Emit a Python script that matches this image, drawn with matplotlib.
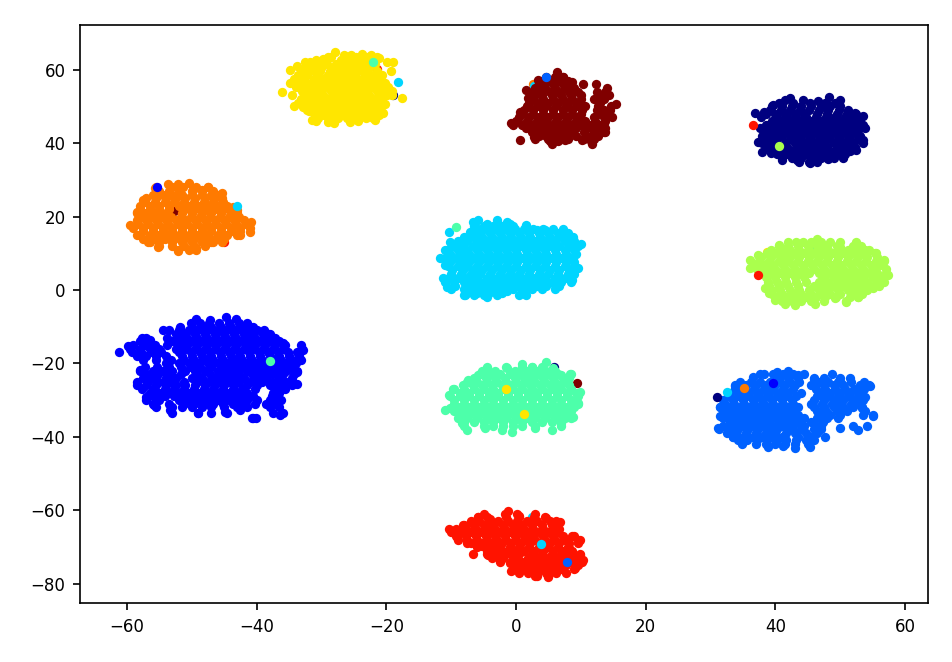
import matplotlib
matplotlib.use("Agg")
import matplotlib.pyplot as plt

xlim = (-67.25, 63.55)
ylim = (-85.3, 72.2)
xticks = [-60, -40, -20, 0, 20, 40, 60]
yticks = [-80, -60, -40, -20, 0, 20, 40, 60]

navy_edge = [(42.3,52.2),(41.5,51.7),(44.3,51.7),(46.6,51.6),(48.3,52.7),(50,51.7),(39.7,50.4),(38.2,48.6),(36.9,48.1),(52.3,48.1),(53.6,47.5),(53.8,44),(53.6,40.8),(52.5,38.1),(50.5,36.3),(48.2,35.8),(45.3,34.5),(43.3,35.4),(41,35.4),(39.4,37.2),(38,37.7),(37.4,40.4),(37.6,44)]
navy_rows = {50:[39.5,41,42.5,44,45.5,47,48.5,50],48:[38.5,40,41.5,43,44.5,46.5,48,49.5,51,52.5],46:[39.5,41,42.5,44,45.5,47,48.5,50,51.5,53],44:[39.8,41,42.5,44,45.5,47,48.5,50,51.5,53],42:[38,39.5,41,42.5,44,45.5,47,48.5,50,51.5,53],40:[38,39.5,41.5,43,44.5,46,47.5,49,50.5,52,53.5],38:[39.5,41,42.5,44,45.5,47,48.5,50,51.5],36:[41,42.5,44,45.5,47,49,50.5],
51:[40.5,42.8,45.3,47.7,49.2],49:[39.2,40.8,42.2,43.8,45.2,46.8,48.2,49.8,51.2],47:[37.8,40.3,41.8,43.2,44.8,46.2,47.8,49.2,50.8,52.2],45:[38.6,40.3,41.8,43.2,44.8,46.2,47.8,49.2,50.8,52.2,53.5],43:[38.7,40.3,41.8,43.2,44.8,46.2,47.8,49.2,50.8,52.2],41:[38.7,40.3,42.2,43.7,45.2,46.7,48.2,49.7,51.2,52.7],39:[38.7,40.3,41.8,43.5,45,46.5,48,49.5,51,52.3],37:[40.2,41.8,43.2,44.8,46.2,47.8,49.2,50.8],35:[43.7,45.2,46.5]}

blue_edge = [(-61.2,-17),(-59.8,-15.2),(-57.7,-13.2),(-56.5,-13.6),(-54.4,-10.9),(-51.8,-10.5),(-49.3,-7.9),(-47.2,-8.2),(-44.8,-7.5),(-43.2,-7.9),(-40.5,-10),(-38.5,-11.8),(-35.9,-14.5),(-32.8,-16.4),(-33.1,-19.1),(-33.8,-22.3),(-33.8,-25.5),(-36.2,-30),(-36.4,-34.1),(-40.5,-35),(-42.6,-32.7),(-44.9,-33.2),(-49,-33.6),(-53.4,-32.7),(-55.9,-31.4),(-57,-29.1),(-58.5,-25.2),(-58,-21.8)]
blue_rows = {-10:[-51.8,-50,-48.5,-47,-45.5,-44,-42.5,-41],-12:[-52.5,-51,-49.5,-48,-46.5,-45,-43.5,-42,-40.5,-39,-38],-14:[-58,-56.5,-53,-51.5,-50,-48.5,-47,-45.5,-44,-42.5,-41,-39.5,-38,-36.5],-16:[-59.5,-58,-56.5,-55,-52.5,-51,-49.5,-48,-46.5,-45,-43.5,-42,-40.5,-39,-37.5,-36,-33],-18:[-58.5,-57,-55.5,-54,-51.5,-50,-48.5,-47,-45.5,-44,-42.5,-41,-39.5,-38,-36.5,-35,-33.5],-20:[-54,-52,-50.5,-49,-47.5,-46,-44.5,-43,-41.5,-40,-38.5,-37,-35.5,-34],-22:[-58,-56,-54.5,-53,-51,-49.5,-48,-46,-44.5,-43,-41.5,-40,-38.5,-37,-35.5,-33.8],-24:[-57.5,-56,-54,-52.5,-50,-48.5,-46.5,-45,-43.5,-42,-40,-38.5,-36.5,-34.5],-26:[-58.5,-57,-55.5,-54,-52.5,-51,-49.5,-48,-46.5,-45,-43.5,-41.5,-40,-38,-36.5,-34.5],-28:[-56.5,-55,-53.5,-52,-50.5,-49,-47.5,-46,-44.5,-43,-41.5,-37.5,-36.5],-30:[-57,-55,-52,-50.5,-49,-47.5,-46,-44.5,-43,-41.5,-40,-38,-36.5],-32:[-55.5,-53,-51.5,-50,-48.5,-47,-45,-43,-41.5,-38,-36.5],-33.5:[-53,-49,-47,-44.5,-37.5,-36],-35:[-40.7,-40.1],
-9:[-50.2,-48.7,-47.3,-45.8,-44.3,-42.8,-41.5],-11:[-53.5,-52,-50.5,-49,-47.5,-46,-44.5,-43,-41.5,-40,-38.8],-13:[-57,-53.8,-52.2,-50.7,-49.2,-47.7,-46.2,-44.7,-43.2,-41.7,-40.2,-38.7,-37.2],-15:[-59,-57.3,-55.7,-53.8,-52.2,-50.7,-49.2,-47.7,-46.2,-44.7,-43.2,-41.7,-40.2,-38.7,-37.2,-35.7,-33.2],-17:[-59.3,-57.8,-56.2,-54.7,-52,-50.2,-48.7,-47.2,-45.7,-44.2,-42.7,-41.2,-39.7,-38.2,-36.7,-35.2,-33.8],-19:[-57.5,-55.5,-53.2,-51.2,-49.7,-48.2,-46.7,-45.2,-43.7,-42.2,-40.7,-39.2,-37.7,-36.2,-34.5],-21:[-57.3,-55.3,-53.5,-51.7,-50.2,-48.7,-47,-45.2,-43.7,-42.2,-40.7,-39.2,-37.7,-36.2,-34.7],-23:[-57,-55.2,-53.5,-51.7,-49.2,-47.2,-45.5,-44,-42.7,-40.7,-39.2,-37.7,-36,-34.3],-25:[-56.7,-55,-53.2,-51.2,-49.2,-47.5,-45.7,-44.2,-42.7,-41,-39.2,-37.5,-35.5],-27:[-57.7,-56,-54.2,-52.7,-51.2,-49.7,-48.2,-46.7,-45.2,-43.7,-42.2,-40.2,-37.2,-35.7],-29:[-56,-54.2,-52.7,-51.2,-49.7,-48.2,-46.7,-45.2,-43.7,-42.2,-40.5,-37.7],-31:[-56,-53.5,-51.2,-49.7,-48.2,-46.7,-45.2,-43.7,-42.2,-40.2,-38.5,-37]}

azure_edge = [(42,-22),(40.2,-22.4),(37.6,-22.9),(36.6,-23.8),(43.5,-23.2),(45.9,-24.3),(47.7,-25),(50.2,-25.4),(54.6,-26.2),(53.4,-26.5),(53.8,-29.1),(53.3,-32.2),(55,-34.3),(54.1,-37.2),(52.8,-38.2),(52,-37),(49.9,-37.5),(47.1,-37),(47.7,-40),(45.3,-42.7),(43.1,-43.2),(41.2,-42.5),(38.9,-42.9),(34.8,-41.6),(33.5,-40),(31.2,-37.5),(31.5,-34.3),(31.5,-31.8),(33.8,-26.3)]
azure_rows = {-24:[40.5,42,43.5,46,47.5,50,51.5],-26:[33.8,35.5,37,38.5,40,41.5,43,45.5,47.5,49,50.5,53,54.5],-28:[33,34.5,36,37.5,39,40.5,42,44,47,48.5,50,51.5,53],-30:[32,33.5,35,36.5,38,39.5,41,42.5,46,47.5,49,50.5,52,53.5],-32:[31.5,33,34.5,36,37.5,39,40.5,42,43.5,46,47.5,49,50.5,52,53.3],-34:[33,34.5,36,37.5,39,40.5,42,43.5,47,48.5,50,53.5,55],-36:[33,34.5,36,37.5,39,40.5,42,43.7,45.5,47.3],-38:[31.3,32.8,34.3,35.8,37.3,38.8,40.3,42,44,46,47],-40:[33.5,35,36.5,38,39.5,41,43.5,45.5],-42:[34.8,37,38.5,40,41.5,43,45],
-23:[38.2,39.7,41.2,42.7,44.5,48.8],-25:[34.5,36.2,37.7,39.2,40.7,42.2,43.7,46.7,48.2,49.7,51.7,53.7],-27:[33.8,35.2,36.7,38.2,39.7,41.2,42.7,46.2,47.7,49.2,50.7,52.2,53.7],-29:[32.7,34.2,35.7,37.2,38.7,40.2,41.7,43.2,46.5,48.2,49.7,51.2,52.7],-31:[32.2,33.7,35.2,36.7,38.2,39.7,41.2,42.7,45.5,47.2,48.7,50.2,51.7,53],-33:[32.2,33.7,35.2,36.7,38.2,39.7,41.2,42.7,46.5,47.8,49.5,51,53.8],-35:[32,33.7,35.2,36.7,38.2,39.7,41.2,42.7,44.5,46.5,48,49.7],-37:[32,33.7,35,36.5,38,39.5,41,42.7,44.5,46.3],-39:[32.5,34,35.5,37,38.5,40,41.7,43,44.7,46.5],-41:[34.2,35.7,37.2,38.7,40.2,41.7,43.2,44.7,46]}

cyan_edge = [(-6.6,18.6),(-5.8,19),(-3,19),(-1.4,18.6),(1.5,17.7),(3.2,16.3),(4.5,16.3),(7.5,15.4),(8.8,14.5),(10.1,12.4),(8.8,8.6),(9.6,5.9),(8.6,2.7),(6,1.3),(1.4,-1),(-1.4,-.3),(-4.5,-2),(-7.9,-1.4),(-10.7,.9),(-11.2,3.3),(-11,6.8),(-11.7,8.6),(-11,10.9),(-10.2,13),(-10.3,15.9),(-7.1,15.9)]
cyan_rows = {17.5:[-6.5,-5,-3.5,-2,-0.5,1.5],15.5:[-7,-5.5,-4,-2.5,-1,0.5,2,3.5,5,6.5,8],13.3:[-9,-7.5,-6,-4.5,-3,-1.5,0,1.5,3,4.5,6,7.5,9],11:[-10.5,-9,-7.5,-6,-4.5,-3,-1.5,0,1.5,3,4.5,6,7.5,9],8.8:[-11,-9.5,-8,-6.5,-5,-3.5,-2,-.5,1,2.5,4,5.5,7,8.5],6.6:[-10.5,-9,-7.5,-6,-4.5,-3,-1.5,0,1.5,3,4.5,6,7.5,9],4.4:[-10,-8.5,-7,-5.5,-4,-2.5,-1,.5,2,3.5,5,6.5,8,9],2.2:[-11,-9.5,-8,-6.5,-5,-3.5,-2,-.5,1,2.5,4,5.5,7,8.5],0.2:[-10,-8,-6.5,-5,-3.5,-2,-.5,1,2.5,4,6],-1.5:[-8,-6.5,-5,-3,.5,1.5],
18:[-4.5,-2.7,-1],16.5:[-5.9,-4.7,-3.2,-1.7,-.2,1.2,2.7,4.2,5.7,7.2],14.4:[-8,-6.7,-5.2,-3.7,-2.2,-.7,.8,2.2,3.7,5.2,6.7,8.2],12.1:[-9.7,-8.2,-6.7,-5.2,-3.7,-2.2,-.7,.8,2.2,3.7,5.2,6.7,8.2,9.5],9.9:[-10.2,-8.7,-7.2,-5.7,-4.2,-2.7,-1.2,.2,1.7,3.2,4.7,6.2,7.7,9.2],7.7:[-10.2,-8.7,-7.2,-5.7,-4.2,-2.7,-1.2,.2,1.7,3.2,4.7,6.2,7.7,9],5.5:[-9.8,-8.2,-6.7,-5.2,-3.7,-2.2,-.7,.7,2.2,3.7,5.2,6.7,8.2],3.3:[-10.4,-9,-7.5,-6,-4.5,-3,-1.5,0,1.5,3,4.5,6,7.5],1.2:[-9.4,-7.2,-5.7,-4.2,-2.7,-1.2,.2,1.7,3.2,4.7,6.7],-.7:[-7.5,-6,-4.2,-2.2]}

spring_edge = [(4.6,-19.5),(.9,-20.2),(2.4,-20.9),(-1.4,-21.3),(-4.5,-21.3),(-5.8,-23.2),(-7.4,-24.5),(-9.7,-27),(-10.4,-28.6),(-11,-32.7),(-10.2,-32.2),(-8.4,-36.3),(-7.5,-38.2),(-4.8,-37.7),(-2.2,-38.2),(-.6,-38.6),(2.9,-37.7),(5.5,-38.2),(7,-36.2),(8.8,-34.5),(9.6,-30.9),(9.9,-27.7),(8.5,-22.9),(7,-23.2),(5.7,-21.3)]
spring_rows = {-21:[-4.5,-1.5,1,2.5,4],-23:[-5.5,-4,-2.5,-1,.5,2,3.5,5,6.5,8.4],-25:[-7.5,-6,-4.5,-3,-1.5,0,1.5,3,4.5,6,7.5],-27:[-9.5,-8,-6.5,-5,-3.5,-2,-.5,1,2.5,4,5.5,7,8.5],-29:[-10.2,-8.7,-7.2,-5.7,-4.2,-2.7,-1.2,.3,1.8,3.3,4.8,6.3,7.8,9.5],-31:[-9.5,-8,-6.5,-5,-3.5,-2,-.5,1,2.5,4,5.5,7,8.5,9.5],-33:[-9.5,-8,-6.5,-5,-3.5,-2,-.5,1,2.5,4,5.5,7,8.5],-35:[-9,-7.5,-6,-4.5,-3,-1.5,0,1.5,3,4.5,6,7.5,8.5],-37:[-8,-5,-3.5,-2,-.5,1,2.9,7],
-22:[-5.2,-3.2,-.2,1.7,3.2,4.7,6],-24:[-6.5,-4.7,-3.2,-1.7,-.2,1.2,2.7,4.2,5.7,7.2,8.2],-26:[-8.2,-6.7,-5.2,-3.7,-2.2,-.7,.8,2.2,3.7,5.2,6.7,8.2],-28:[-8.7,-7.2,-5.7,-4.2,-2.7,-1.2,.3,1.8,3.3,4.8,6.3,7.8,9.2],-30:[-9.5,-8,-6.5,-5,-3.5,-2,-.5,1,2.5,4,5.5,7,8.5],-32:[-8.7,-7.2,-5.7,-4.2,-2.7,-1.2,.3,1.8,3.3,4.8,6.3,7.8,9],-34:[-8.7,-7.2,-5.7,-4.2,-2.7,-1.2,.3,1.8,3.3,4.8,6.3,7.8],-36:[-8,-6.5,-5,-3.5,-2,-.5,1,2.5,4,5.5,7]}

lime_edge = [(46.5,13.8),(44.3,13),(40.5,12.2),(37.4,9.5),(36.1,8.2),(36.1,5.9),(38.4,.4),(39,-.8),(40,-2.8),(41.5,-3.7),(43,-4.1),(46.1,-3.7),(49.2,-2.3),(50.9,-3.4),(52.8,-1.8),(55.1,.4),(56.8,2.2),(57.4,4),(56.7,8.2),(55.6,10),(53.8,10.9),(52.5,12.7),(50,11.8),(47.4,12)]
lime_rows = {12:[40.5,42,43.5,45,46.5,48,49.5,52,53.2],10:[38.7,40,41.5,43,44.5,46,47.5,49,50.5,52.2,53.8,55.3],7.8:[37.5,39,40.5,42,43.5,45,46.5,48,49.5,51,52.5,54,55.5,56.7],5.6:[37.2,38.5,40,41.5,43,44.5,46,47.5,49,50.5,52,53.5,55,57],3.4:[38.5,40,41.5,43,44.5,47.5,49,50.5,52,53.5,55,56.5],1.2:[39,40.5,42,43.5,46,47.5,49,50.5,52,53.5,55,56],-1:[39.5,41,42.5,44,45.5,47,48.5,50,52,53.3],-3:[41,42.5,44,45.5,47.5,50.9],
13:[42,43.2,45.5,47,48.5,50,52.5],11:[39.3,40.8,42.2,43.7,45.2,46.7,48.2,49.7,51.2,52.7,54.5],8.9:[37.8,39.3,40.8,42.2,43.7,45.2,46.7,48.2,49.7,51.2,52.7,54.2,55.7],6.7:[36.8,38.2,39.7,41.2,42.7,44.2,45.7,47.2,48.7,50.2,51.7,53.2,54.7,56.2],4.5:[38,39.2,40.7,42.2,43.7,45.2,46.8,48.2,49.7,51.2,52.7,54.2,55.7,57],2.3:[38.8,40.2,41.7,43.2,44.7,46.7,48.2,49.7,51.2,52.7,54.2,55.7],0.1:[39.5,40.7,42.2,43.7,45.2,46.7,48.2,49.7,51.2,52.7,54.2],-2:[40.3,41.7,43.2,44.7,46.2,47.7,49.3,51.5,52.8]}

yellow_edge = [(-27.9,64.9),(-29,63.4),(-29.7,62.9),(-31.8,62.2),(-32.5,62.2),(-33.8,61.1),(-34.9,59.9),(-34.9,56.3),(-36.1,54),(-34.6,53.1),(-34.3,50),(-32.3,49),(-31.5,46.3),(-29,45.8),(-28,45.4),(-25.6,45.8),(-21.7,46.3),(-20.5,48.1),(-20.2,50.8),(-19.2,53.1),(-17.6,52.2),(-19.3,59.7),(-19.9,62),(-19,62),(-21.1,63.3),(-22.4,64),(-23.8,64.3),(-25.4,64),(-26.6,64)]
yellow_rows = {62.6:[-30.9,-27,-25.5,-24.2,-22.6],60.6:[-32.5,-31.2,-30,-28.4,-27,-25.4,-24,-22.6],58.6:[-33.6,-32.2,-30.7,-29,-27.6,-26.2,-24.8,-23.3,-21.9,-20.6],56.4:[-33.2,-31.6,-30.2,-28.8,-27.4,-25.9,-24.5,-23,-21.6,-20.2],54.2:[-33,-31.4,-30,-28.6,-27.2,-25.8,-24.4,-23,-21.5,-20.1,-19.2],52:[-33.2,-31.8,-30.4,-29,-27.6,-26.2,-24.8,-23.4,-22,-20.6],49.8:[-32.9,-31.5,-30,-28.7,-27.3,-25.8,-24.4,-23,-21.6],47.8:[-31,-29.6,-28.2,-26.8,-25.4,-24,-22.6,-21.2],46:[-30.8,-24.4],
63.6:[-28.5,-26,-24.7,-23.2,-21.5],61.6:[-32,-30.5,-29.2,-27.7,-26.2,-24.7,-23.3,-21.8],59.6:[-33,-31.8,-30.3,-28.7,-27.3,-25.9,-24.4,-23,-21.5],57.5:[-34.2,-32.7,-31.2,-29.7,-28.3,-26.8,-25.3,-23.8,-22.3,-20.9],55.3:[-34,-32.3,-30.8,-29.4,-28,-26.6,-25.2,-23.7,-22.2,-20.8,-19.8],53.1:[-32.6,-31,-29.7,-28.3,-26.9,-25.5,-24.1,-22.7,-21.2,-19.9],50.9:[-33.6,-32.2,-30.7,-29.4,-28,-26.6,-25.1,-23.7,-22.3,-20.9],48.8:[-32,-30.6,-29.2,-27.8,-26.4,-25,-23.6,-22.2,-20.8],46.9:[-30.5,-29,-27.5,-26,-24.8,-23.2,-22]}

orange_edge = [(-53.7,29),(-52.1,29),(-50.5,29.2),(-47.5,28),(-45.4,26.3),(-49.8,27.2),(-48.5,27.2),(-55.7,27.7),(-57.5,24.5),(-58.5,21.3),(-59.5,17.7),(-58.5,15),(-56.7,13.1),(-55.2,11.6),(-52.1,10.7),(-49.3,11.3),(-47,13.1),(-45.4,13.1),(-42.6,15),(-41,15.9),(-40.8,18.6),(-43.1,21.8),(-43.6,22.7)]
orange_rows = {27:[-55,-53.5,-52,-50,-48.5,-46.8],25:[-57,-55.5,-54,-52.5,-51,-49.5,-48,-46.5,-45.3],23:[-58,-56.5,-55,-53.5,-52,-50.5,-49,-47.5,-46,-44.5],21:[-58.5,-57,-55.5,-54,-51.5,-50,-48.5,-47,-45.5,-44,-43],19:[-58.5,-57,-55.5,-54,-52.5,-51,-49.5,-48,-46.5,-45,-43.5,-42],17:[-59,-57.5,-56,-54.5,-53,-51.5,-50,-48.5,-47,-45.5,-44,-42.5,-41],15:[-58,-56.5,-55,-53.5,-52,-50.5,-49,-47.5,-46,-44.5,-43],13:[-56.5,-55,-53,-51.5,-50,-48.5,-46.8],11:[-52.2,-50.5,-49.3],
28:[-55.5,-53,-51.3,-49.3,-47.5],26:[-56,-54.5,-53,-51.5,-50,-48.5,-47,-45.8],24:[-57.2,-55.7,-54.2,-52.7,-51.2,-49.7,-48.2,-46.7,-45.2],22:[-58,-56.5,-55,-53.5,-51,-49.5,-48,-46.5,-45,-43.5],20:[-57.8,-56.2,-54.7,-53.2,-51.7,-50.2,-48.7,-47.2,-45.7,-44.2,-42.8],18:[-58.3,-56.7,-55.2,-53.7,-52.2,-50.7,-49.2,-47.7,-46.2,-44.7,-43.2,-41.7],16:[-57.5,-56,-54.5,-53,-51.5,-50,-48.5,-47,-45.5,-44,-42.5],14:[-57.5,-55.7,-54.2,-52.7,-51.2,-49.7,-48.2,-46.5,-45],12:[-55,-53,-51.2,-49.7,-48]}

red_edge = [(-1.3,-60.2),(.4,-61.6),(-5.8,-61.9),(-4,-62.4),(4.6,-62.2),(6.8,-63.1),(6.5,-65.4),(8.9,-67),(9.9,-68.1),(8.1,-70.4),(9.8,-72.2),(10.4,-73.6),(9.1,-75.8),(5,-78.3),(3.2,-77.9),(-.7,-76.7),(-.9,-74.5),(-2.5,-73.6),(-4.3,-72.2),(-6.7,-72),(-5.3,-69.9),(-7.6,-69),(-9.1,-67.4),(-10.3,-65.1),(-8.1,-64),(-6.8,-63.4)]
red_rows = {-62:[-5.8,-4.5,-1.5,0.5,2.8,4.5],-64:[-8,-6.5,-5,-3.5,-2,-.5,1,2.5,4,5.5],-66:[-10,-8.5,-7,-5.5,-4,-2.5,-1,.5,2,3.5,5,6.5],-68:[-9,-7.5,-6,-4.5,-3,-1.5,0,1.5,3,4.5,6,7.5,9.5],-70:[-6,-4.5,-3,-1,.5,2,3.5,5,6.5,8],-72:[-4.5,-3,-1,.5,2.5,4,5.5,7,8.5,9.8],-74:[-2.5,-.8,1,2.5,4,5.5,7,8.5,10.2],-76:[-.5,1,2.5,4,5.5,7,9],-78:[3,5],
-61:[-5,-1.7,.2,3],-63:[-7,-5.7,-4.2,-2.7,-1.2,.2,1.7,3.2,5.2,6.2],-65:[-9.2,-7.7,-6.2,-4.7,-3.2,-1.7,-.2,1.2,2.7,4.2,5.7,6.7],-67:[-9.2,-7.7,-6.2,-4.7,-3.2,-1.7,-.2,1.2,2.7,4.2,5.7,7.2,8.7],-69:[-7,-5.2,-3.7,-2.2,-.7,.8,2.2,3.7,5.2,6.7,8.2,9.5],-71:[-4.5,-3.7,-2,-.2,1.3,2.8,4.2,5.7,7.2,8.7],-73:[-3.7,-2,-.2,1.8,3.2,4.7,6.2,7.7,9.2],-75:[-.5,.2,1.7,3.2,4.7,6.2,7.7,9.5],-77:[.5,1.8,3.2,4.7,6.2,7.7]}

maroon_edge = [(6.3,59.3),(7.3,58.1),(8.7,56.6),(10.4,56.1),(12.4,56.1),(14,54.9),(14.4,53.1),(15.5,50.6),(14.5,49),(14.8,47),(13.5,45.4),(13.7,43),(11.7,39.9),(10.2,40.8),(7.6,40.8),(5.5,39.9),(2.8,41.6),(0.6,40.8),(-0.8,45.4),(0.6,48.6),(1.9,52.2),(1.6,54.5),(3.4,57.2)]
maroon_rows = {57:[4,5,6.5,8],55:[3,4.5,6,7.5,9],53:[2.9,4,5.5,7,8.5,10,12.8,13.6],51:[2,3.5,5,6.5,8,9.5,13],49:[1.2,2.7,4.2,5.7,7.2,8.7,10.2,12.5,13.5],47:[0.5,2,3.5,5,6.5,8,9.5,12,13.5],45:[-0.5,1,2.5,4,5.5,7,8.5,10,11.5,13],43:[2.5,4,5.5,7,8.5,10.5,12,13.5],41:[3,5,6.5,8,10.5,12],
58:[4.7,6,7.2],56:[3.5,4.2,5.7,7.2,8.5],54:[2.5,3.7,5.2,6.7,8.2,9.5,12.5,13.7],52:[2.7,4.2,5.7,7.2,8.7,10,12,13.5],50:[1.7,3.2,4.7,6.2,7.7,9.2,10.7,12.7,14.7],48:[1,2.7,4.2,5.7,7.2,8.7,10,12.7,14],46:[0,1.7,3.2,4.7,6.2,7.7,9.2,10.7,12.2,13.7],44:[1.5,3.2,4.7,6.2,7.7,9.2,11,12.5,13.7],42:[3.5,4.7,6.2,7.7,9.2,11,12.7],40.5:[5.2,6.5,11.5]}

# class index of each cluster, in the order the classes are drawn
clusters = [(0, navy_edge, navy_rows), (1, blue_edge, blue_rows), (2, azure_edge, azure_rows),
            (3, cyan_edge, cyan_rows), (4, spring_edge, spring_rows), (5, lime_edge, lime_rows),
            (6, yellow_edge, yellow_rows), (7, orange_edge, orange_rows), (8, red_edge, red_rows),
            (9, maroon_edge, maroon_rows)]

# stray points partly hidden beneath a cluster: (class, x, y)
strays_under = [(8,-21.5,60.2),(0,-19,53.2),(7,2.6,56.2),(3,2.8,55.5),(9,38.9,45),(9,-52.8,21.4),(8,-45.1,13),
                (6,38.7,10.3),(3,45.5,12),(0,5.9,-21),(9,9.35,-25.4),(3,2.4,-62)]
# stray points fully visible: (class, x, y)
strays_over = [(4,-22.1,62.2),(3,-18.15,56.7),(2,4.6,57.9),(8,36.6,45),(5,40.5,39.3),(1,-55.3,28),(3,-43,23),
               (4,-9.2,17.1),(8,37.3,4),(4,-37.9,-19.3),(6,-1.6,-27),(6,1.2,-33.9),(3,32.5,-27.9),(7,35.1,-26.8),
               (0,31,-29.1),(1,39.6,-25.4),(3,3.8,-69.3),(2,7.9,-74.2)]

dpi = 150
fig = plt.figure(figsize=(952 / dpi, 662 / dpi), dpi=dpi)
ax = fig.add_axes([80 / 952, (662 - 603) / 662, (928 - 80) / 952, (603 - 25) / 662])
cmap = plt.get_cmap("jet")
size = 20

for c, x, y in strays_under:
    ax.scatter([x], [y], s=size, color=cmap(c / 9), linewidths=0, zorder=1)

for c, edge, rows in clusters:
    xs = [p[0] for p in edge]
    ys = [p[1] for p in edge]
    for row_y, row_xs in rows.items():
        xs.extend(row_xs)
        ys.extend([row_y] * len(row_xs))
    ax.scatter(xs, ys, s=size, color=cmap(c / 9), linewidths=0, zorder=2)

for c, x, y in strays_over:
    ax.scatter([x], [y], s=size, color=cmap(c / 9), linewidths=0, zorder=3)

ax.set_xlim(*xlim)
ax.set_ylim(*ylim)
ax.set_xticks(xticks)
ax.set_yticks(yticks)
ax.tick_params(labelsize=8)
fig.savefig("out.png", dpi=dpi)
